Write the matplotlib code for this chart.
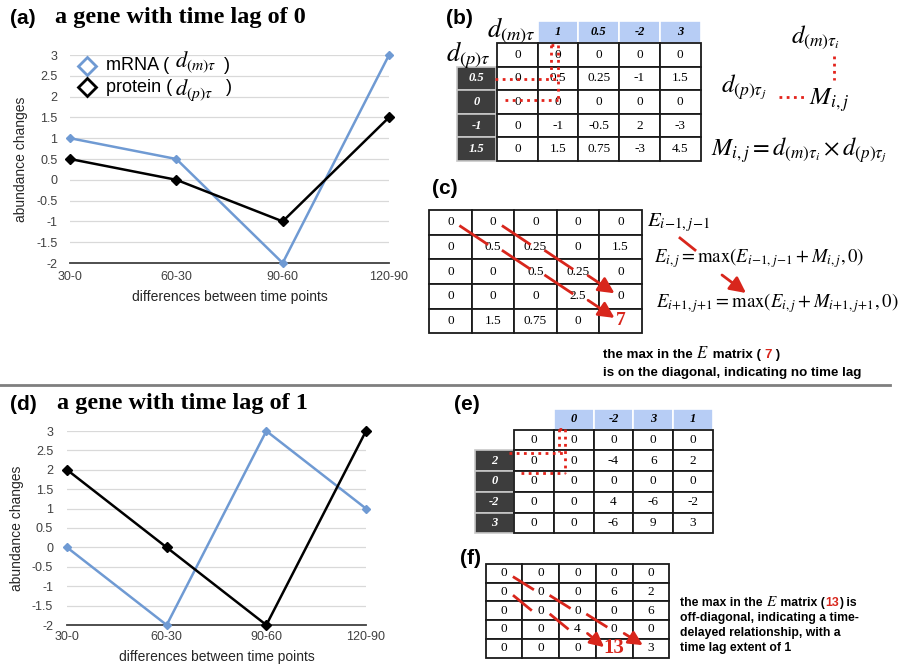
import matplotlib
matplotlib.use("Agg")
import matplotlib.pyplot as plt
from matplotlib.patches import Rectangle

plt.rcParams['font.family'] = ['Liberation Sans', 'DejaVu Sans']
plt.rcParams['mathtext.fontset'] = 'stix'

# ---- data ----
periods = ["30-0", "60-30", "90-60", "120-90"]
yticks = [-2, -1.5, -1, -0.5, 0, 0.5, 1, 1.5, 2, 2.5, 3]

mrna_a = [1, 0.5, -2, 3]
protein_a = [0.5, 0, -1, 1.5]
mrna_d = [0, -2, 3, 1]
protein_d = [2, 0, -2, 3]

m_head_b = ["1", "0.5", "-2", "3"]
p_head_b = ["0.5", "0", "-1", "1.5"]
M_b = [["0", "0", "0", "0", "0"],
       ["0", "0.5", "0.25", "-1", "1.5"],
       ["0", "0", "0", "0", "0"],
       ["0", "-1", "-0.5", "2", "-3"],
       ["0", "1.5", "0.75", "-3", "4.5"]]

E_c = [["0", "0", "0", "0", "0"],
       ["0", "0.5", "0.25", "0", "1.5"],
       ["0", "0", "0.5", "0.25", "0"],
       ["0", "0", "0", "2.5", "0"],
       ["0", "1.5", "0.75", "0", "7"]]

m_head_e = ["0", "-2", "3", "1"]
p_head_e = ["2", "0", "-2", "3"]
M_e = [["0", "0", "0", "0", "0"],
       ["0", "0", "-4", "6", "2"],
       ["0", "0", "0", "0", "0"],
       ["0", "0", "4", "-6", "-2"],
       ["0", "0", "-6", "9", "3"]]

E_f = [["0", "0", "0", "0", "0"],
       ["0", "0", "0", "6", "2"],
       ["0", "0", "0", "0", "6"],
       ["0", "0", "4", "0", "0"],
       ["0", "0", "0", "13", "3"]]

BLUE = "#6f9ad3"
RED = "#d8261c"
DOT = "#e3231b"
SERIF = "Liberation Serif"

W, H = 902, 665
fig = plt.figure(figsize=(W / 100, H / 100), dpi=100)


def px_rect(left, top, right, bottom):
    return [left / W, 1 - bottom / H, (right - left) / W, (bottom - top) / H]


def line_panel(rect, mrna, protein, ypad, xpad):
    ax = fig.add_axes(rect)
    x = range(len(periods))
    ax.plot(x, mrna, color=BLUE, lw=1.8, marker='D', ms=4, zorder=3, clip_on=False)
    ax.plot(x, protein, color='black', lw=1.8, marker='D', ms=5.5, zorder=4, clip_on=False)
    ax.set_xlim(0, 3)
    ax.set_ylim(-2, 3)
    ax.set_yticks(yticks)
    ax.set_yticklabels([f"{v:g}" for v in yticks])
    ax.set_xticks(list(x))
    ax.set_xticklabels(periods)
    ax.grid(axis='y', color='#d9d9d9', lw=0.9)
    ax.set_axisbelow(True)
    for s in ['top', 'right', 'left']:
        ax.spines[s].set_visible(False)
    ax.spines['bottom'].set_color('#404040')
    ax.spines['bottom'].set_linewidth(1.3)
    ax.tick_params(axis='y', length=0, labelsize=9, colors='#404040', pad=ypad)
    ax.tick_params(axis='x', length=0, labelsize=9, colors='#404040', pad=xpad)
    ax.set_ylabel("abundance changes", fontsize=10, color='#262626', labelpad=6)
    ax.set_xlabel("differences between time points", fontsize=10, color='#262626', labelpad=5)
    ax.set_facecolor('none')
    return ax


line_panel(px_rect(70, 55, 389, 263), mrna_a, protein_a, 9, 6)
line_panel(px_rect(67, 431, 366, 625), mrna_d, protein_d, 10, 4)

# overlay in pixel coordinates
ov = fig.add_axes([0, 0, 1, 1], zorder=10)
ov.set_xlim(0, W)
ov.set_ylim(H, 0)
ov.axis('off')
ov.patch.set_alpha(0)
renderer = fig.canvas.get_renderer()


def width_of(s, **kw):
    t1 = ov.text(0, 0, s + "|", **kw)
    t2 = ov.text(0, 0, "|", **kw)
    w = t1.get_window_extent(renderer).width - t2.get_window_extent(renderer).width
    t1.remove()
    t2.remove()
    return w


def run_text(x, y, pieces, va='baseline'):
    # pieces: (string, dict of text kwargs)
    for s, kw in pieces:
        ov.text(x, y, s, va=va, **kw)
        x += width_of(s, va=va, **kw)
        if s.startswith("$"):
            x += 1.5


# titles
ov.text(10, 18, "(a)", fontsize=15, weight='bold', va='center')
ov.text(55, 18, "a gene with time lag of 0", fontsize=17.5, weight='bold', family=SERIF, va='center')
ov.text(10, 404, "(d)", fontsize=15, weight='bold', va='center')
ov.text(57, 404, "a gene with time lag of 1", fontsize=17.5, weight='bold', family=SERIF, va='center')
for lab, x, y in [("(b)", 446, 18), ("(c)", 432, 188), ("(e)", 454, 404), ("(f)", 460, 558)]:
    ov.text(x, y, lab, fontsize=15, weight='bold', va='center')

# separator
ov.plot([0, 890], [385, 385], color='#7f7f7f', lw=2)

# legend of panel (a)
ov.plot(87, 66, marker='D', ms=9, mfc='white', mec=BLUE, mew=2)
ov.plot(87, 87, marker='D', ms=9, mfc='white', mec='black', mew=2)
ov.text(106, 66, "mRNA (", fontsize=13, va='center')
ov.text(175, 62, r"$d_{(m)\tau}$", fontsize=16, va='center')
ov.text(224, 66, ")", fontsize=13, va='center')
ov.text(106, 88, "protein (", fontsize=13, va='center')
ov.text(175, 90, r"$d_{(p)\tau}$", fontsize=16, va='center')
ov.text(226, 88, ")", fontsize=13, va='center')


def grid_table(x0, y0, cw, rh, cells, fs=9.5, special=None):
    special = special or {}
    for r, row in enumerate(cells):
        for c, val in enumerate(row):
            ov.add_patch(Rectangle((x0 + c * cw, y0 + r * rh), cw, rh, fc='white',
                                   ec='#1a1a1a', lw=1.3, zorder=2))
            kw = dict(fontsize=fs, family=SERIF, color='black')
            kw.update(special.get((r, c), {}))
            ov.text(x0 + (c + .5) * cw, y0 + (r + .5) * rh, val, ha='center', va='center',
                    zorder=5, **kw)


def blue_head(x0, y0, cw, rh, labels):
    for c, val in enumerate(labels):
        ov.add_patch(Rectangle((x0 + c * cw, y0), cw, rh, fc='#b7cdf5', ec='white', lw=1.2, zorder=1))
        ov.text(x0 + (c + .5) * cw, y0 + rh / 2, val, ha='center', va='center', fontsize=9,
                family=SERIF, weight='bold', style='italic', zorder=5)


def dark_head(x0, y0, cw, rh, labels):
    for r, val in enumerate(labels):
        ov.add_patch(Rectangle((x0, y0 + r * rh), cw, rh, fc='#3d3d3d', ec='#c8c8c8', lw=1.2, zorder=1))
        ov.text(x0 + cw / 2, y0 + (r + .5) * rh, val, ha='center', va='center', fontsize=9,
                family=SERIF, weight='bold', style='italic', color='white', zorder=5)


def dotted(xs, ys):
    ov.plot(xs, ys, color=DOT, lw=2, ls=(0, (1, 1.6)), zorder=6)


def arrow(x1, y1, x2, y2, scale=16):
    ov.annotate("", xy=(x2, y2), xytext=(x1, y1),
                arrowprops=dict(arrowstyle='-|>,head_length=0.6,head_width=0.3', color=RED,
                                lw=2, shrinkA=0, shrinkB=0, mutation_scale=scale), zorder=7)


def diag(x0, y0, cw, rh, path, s_off, e_off, scale=16):
    pts = [(x0 + (c + .5) * cw, y0 + (r + .5) * rh) for r, c in path]
    for i in range(len(pts) - 1):
        sx, sy = pts[i][0] + s_off[0], pts[i][1] + s_off[1]
        ex, ey = pts[i + 1][0] - e_off[0], pts[i + 1][1] - e_off[1]
        if i == len(pts) - 2:
            arrow(sx, sy, ex, ey, scale)
        else:
            ov.plot([sx, ex], [sy, ey], color=RED, lw=2, zorder=7)


# ---- panel (b) ----
bx, by, bcw, brh = 497, 43, 40.7, 23.6
blue_head(bx + bcw, 21, bcw, 22, m_head_b)
dark_head(457, by + brh, 39, brh, p_head_b)
grid_table(bx, by, bcw, brh, M_b)
ov.text(487, 31, r"$d_{(m)\tau}$", fontsize=19, va='center')
ov.text(446, 55, r"$d_{(p)\tau}$", fontsize=19, va='center')
dotted([551, 551], [45, 79])
dotted([558, 558], [45, 100])
dotted([551, 558], [45, 45])
dotted([495, 558], [79, 79])
dotted([505, 558], [100, 100])

ov.text(791, 37, r"$d_{(m)\tau_i}$", fontsize=18, va='center')
dotted([834, 834], [56, 80])
ov.text(721, 87, r"$d_{(p)\tau_j}$", fontsize=18, va='center')
dotted([779, 807], [97, 97])
ov.text(809, 100, r"$M_{i,j}$", fontsize=18, va='center')
ov.text(711, 150, r"$M_{i,j}=d_{(m)\tau_i}\times d_{(p)\tau_j}$", fontsize=17.5, va='center')

# ---- panel (c) ----
cx, cy, ccw, crh = 429.3, 210, 42.5, 24.65
grid_table(cx, cy, ccw, crh, E_c,
           special={(4, 4): dict(color=RED, fontsize=14, weight='bold')})
diag(cx, cy, ccw, crh, [(0, 0), (1, 1), (2, 2), (3, 3), (4, 4)], (10, 4), (6, 3))
diag(cx, cy, ccw, crh, [(0, 1), (1, 2), (2, 3), (3, 4)], (10, 4), (6, 3))
ov.text(647, 223, r"$E_{i\!-\!1,j\!-\!1}$", fontsize=15, va='center')
ov.plot([680, 695], [238, 250], color=RED, lw=2)
ov.text(654, 258, r"$E_{i,j}=\max\left(E_{i\!-\!1,j\!-\!1}+M_{i,j},0\right)$", fontsize=13.5,
        va='center')
arrow(722, 275, 746, 293)
ov.text(656, 303, r"$E_{i\!+\!1,j\!+\!1}=\max\left(E_{i,j}+M_{i\!+\!1,j\!+\!1},0\right)$",
        fontsize=13.5, va='center')

bold_c = dict(fontsize=9.6, weight='bold', color='black')
run_text(603, 358, [("the max in the ", bold_c), ("$E$", dict(fontsize=12, color='black')),
                    (" matrix ( ", bold_c), ("7", dict(bold_c, color=RED)), (" )", bold_c)])
run_text(603, 376, [("is on the diagonal, indicating no time lag", bold_c)])

# ---- panel (e) ----
ex_, ey_, ecw, erh = 514, 429.7, 39.8, 20.7
blue_head(ex_ + ecw, 409, ecw, 20.7, m_head_e)
dark_head(475, ey_ + erh, 38.5, erh, p_head_e)
grid_table(ex_, ey_, ecw, erh, M_e)
dotted([559, 559], [429, 452])
dotted([565, 565], [429, 473])
dotted([559, 565], [429, 429])
dotted([509, 565], [453, 453])
dotted([521, 565], [473, 473])

# ---- panel (f) ----
fx, fy, fcw, frh = 485.7, 564, 36.7, 18.7
grid_table(fx, fy, fcw, frh, E_f,
           special={(4, 3): dict(color=RED, fontsize=15, weight='bold')})
diag(fx, fy, fcw, frh, [(0, 0), (1, 1), (2, 2), (3, 3), (4, 4)], (10, 4), (8, 3), 14)
diag(fx, fy, fcw, frh, [(1, 0), (2, 1), (3, 2), (4, 3)], (10, 4), (10, 1), 14)

bold_f = dict(fontsize=8.8, weight='bold', color='black')
run_text(680, 606, [("the max in the ", bold_f), ("$E$", dict(fontsize=11, color='black')),
                    (" matrix (", bold_f), ("13", dict(bold_f, color=RED)), (") is", bold_f)])
run_text(680, 621, [("off-diagonal, indicating a time-", bold_f)])
run_text(680, 636, [("delayed relationship, with a", bold_f)])
run_text(680, 651, [("time lag extent of 1", bold_f)])

fig.savefig("out.png", dpi=100)
